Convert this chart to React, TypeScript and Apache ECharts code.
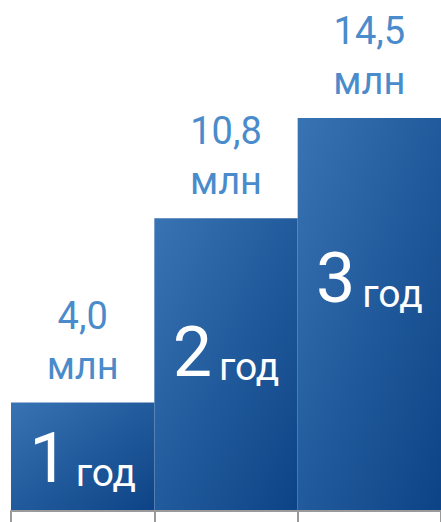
import React, { useEffect, useRef } from "react";
import * as echarts from "echarts";

const categories = ["1", "2", "3"];
const values = [4.0, 10.8, 14.5];
const unitLabel = "млн";
const periodLabel = "год";

// layout-only: vertical offsets of the inner labels, per bar
const innerOffsets = [1, -13, -36];

const fmt = (v: number) => v.toFixed(1).replace(".", ",");

export default function App() {
  const ref = useRef<HTMLDivElement>(null);
  useEffect(() => {
    if (!ref.current) return;
    const chart = echarts.init(ref.current, null, { renderer: "svg" });
    const gradient = new echarts.graphic.LinearGradient(0, 0, 1, 1, [
      { offset: 0, color: "#3873b3" },
      { offset: 1, color: "#0c4386" },
    ]);
    chart.setOption({
      animation: false,
      grid: { left: 11, right: -2, top: 0, bottom: 11 },
      xAxis: {
        type: "category",
        data: categories,
        boundaryGap: true,
        axisLine: { show: true, lineStyle: { color: "#9a9a9a", width: 2 } },
        axisTick: { show: true, length: 12, lineStyle: { color: "#9a9a9a", width: 2 } },
        axisLabel: { show: false },
        splitLine: { show: false },
        z: 10,
      },
      yAxis: {
        type: "value",
        min: 0,
        max: 18.85,
        show: false,
        splitLine: { show: false },
      },
      series: [
        {
          type: "bar",
          barCategoryGap: "0%",
          barGap: "-100%",
          data: values,
          itemStyle: { color: gradient },
          label: {
            show: true,
            position: "top",
            distance: 12,
            formatter: (p: any) => `{v|${fmt(p.value)}}\n{v|${unitLabel}}`,
            rich: {
              v: {
                fontFamily: "Roboto",
                fontSize: 38,
                lineHeight: 50,
                color: "#4a8bcb",
              },
            },
          },
        },
        {
          type: "bar",
          barCategoryGap: "0%",
          barGap: "-100%",
          silent: true,
          data: values.map((v, i) => ({
            value: v,
            label: { offset: [0, innerOffsets[i]] },
          })),
          itemStyle: { color: "rgba(0,0,0,0)" },
          label: {
            show: true,
            position: "inside",
            formatter: (p: any) => `{n|${categories[p.dataIndex]}}{u|${periodLabel}}`,
            rich: {
              n: {
                fontFamily: "Roboto",
                fontSize: 70,
                lineHeight: 70,
                color: "#ffffff",
                verticalAlign: "bottom",
              },
              u: {
                fontFamily: "Roboto",
                fontSize: 39,
                lineHeight: 52,
                color: "#ffffff",
                verticalAlign: "bottom",
                padding: [0, 0, 0, 7],
              },
            },
          },
        },
      ],
    });
    return () => chart.dispose();
  }, []);
  return (
    <div style={{ position: "fixed", left: 0, top: 0, width: 441, height: 522, overflow: "hidden", background: "#fff" }}>
      <div ref={ref} style={{ width: 441, height: 522 }} />
    </div>
  );
}
